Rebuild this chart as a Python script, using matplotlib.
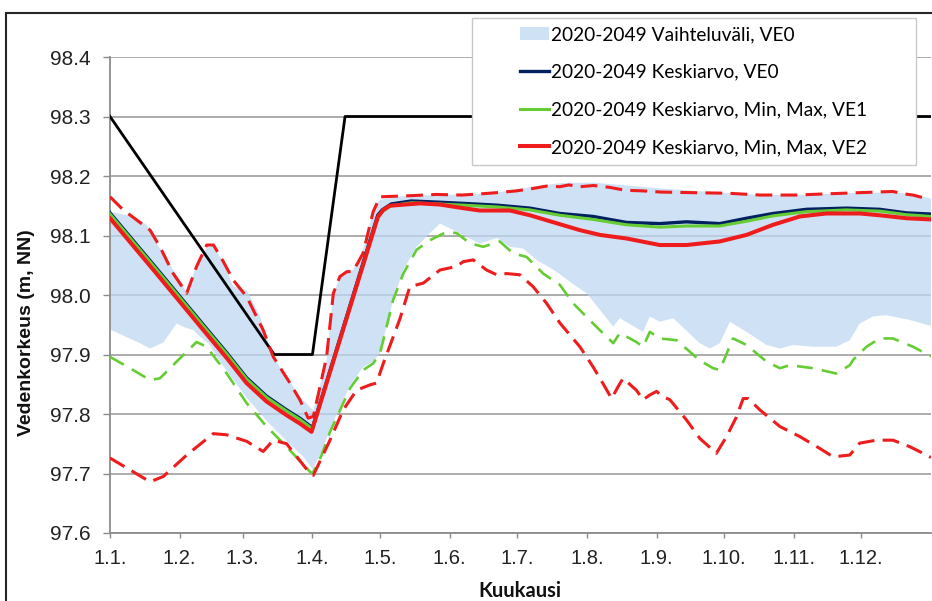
import numpy as np
import matplotlib.pyplot as plt
from matplotlib.patches import Rectangle, Patch
from matplotlib.lines import Line2D

# x axis is day of year, ticks at month starts
month_days = [0, 31, 59, 90, 120, 151, 181, 212, 243, 273, 304, 334]
month_labels = ['1.1.', '1.2.', '1.3.', '1.4.', '1.5.', '1.6.',
                '1.7.', '1.8.', '1.9.', '1.10.', '1.11.', '1.12.']

# regulation upper limit
limit_days = [0, 73, 90, 104.5, 365]
limit_vals = [98.3, 97.9, 97.9, 98.3, 98.3]

# VE0 range (max / min)
ve0_max_days = [0, 10.4, 16.3, 20, 25.2, 31.1, 34.1, 38, 43, 46, 50, 54.8, 60.8, 66.7, 72.6, 80, 84.4,
                90.4, 96.3, 99.1, 102.2, 105, 108, 112.4, 116.9, 120, 130, 145, 160, 175, 190, 200,
                215, 230, 245, 260, 275, 290, 305, 320, 335, 350, 358, 365]
ve0_max_vals = [98.140, 98.132, 98.118, 98.092, 98.059, 98.025, 98.003, 98.045, 98.080, 98.082, 98.058,
                98.014, 98.008, 97.964, 97.895, 97.855, 97.829, 97.806, 97.890, 98.000, 98.030, 98.040,
                98.042, 98.075, 98.140, 98.160, 98.166, 98.168, 98.169, 98.174, 98.183, 98.188, 98.189,
                98.184, 98.179, 98.175, 98.171, 98.168, 98.168, 98.170, 98.172, 98.172, 98.168, 98.162]
ve0_min_days = [0, 13.3, 17.8, 23.7, 29.6, 33, 37, 40, 44, 48, 52, 61, 70, 79, 86, 90, 94, 97.8, 106.7,
                112.6, 117, 120, 125.9, 130.4, 136.3, 142.2, 146.7, 151.1, 156.9, 164.4, 171.9, 177.8,
                183.7, 189.6, 196, 200, 206, 211.9, 217.8, 223.7, 226.7, 237, 240, 244.4, 250.4, 262.2,
                266.7, 271.1, 275.6, 283, 291.9, 297.8, 303.7, 312.6, 322.9, 328.9, 333.3, 339.2, 345.2,
                355.6, 365]
ve0_min_vals = [97.942, 97.919, 97.910, 97.920, 97.952, 97.946, 97.941, 97.930, 97.918, 97.893, 97.872,
                97.826, 97.787, 97.753, 97.728, 97.707, 97.735, 97.775, 97.848, 97.879, 97.888, 97.902,
                97.992, 98.042, 98.081, 98.104, 98.120, 98.112, 98.101, 98.086, 98.096, 98.081, 98.078,
                98.059, 98.045, 98.035, 98.018, 98.003, 97.975, 97.947, 97.961, 97.938, 97.964, 97.955,
                97.961, 97.919, 97.910, 97.919, 97.955, 97.938, 97.916, 97.910, 97.916, 97.913, 97.913,
                97.924, 97.952, 97.964, 97.966, 97.958, 97.948]

# mean levels VE0 / VE1
mean_days = [0, 20, 41.5, 51.9, 60.7, 69.6, 78.5, 84.4, 90, 119, 121, 125, 134, 146, 157, 172, 186.7,
             200, 214.8, 229.6, 244.4, 256.3, 271.1, 283, 294.8, 309.6, 327.4, 342.2, 354.1, 365]
ve0_mean = [98.138, 98.048, 97.950, 97.903, 97.861, 97.830, 97.807, 97.793, 97.777, 98.134, 98.143,
            98.153, 98.158, 98.156, 98.154, 98.151, 98.146, 98.137, 98.132, 98.122, 98.120, 98.123,
            98.120, 98.129, 98.137, 98.144, 98.146, 98.144, 98.138, 98.136]
ve1_mean = [98.136, 98.046, 97.948, 97.901, 97.859, 97.828, 97.805, 97.791, 97.775, 98.131, 98.140,
            98.150, 98.155, 98.153, 98.151, 98.148, 98.143, 98.134, 98.127, 98.118, 98.114, 98.116,
            98.116, 98.124, 98.133, 98.140, 98.143, 98.141, 98.135, 98.132]

# VE2 mean
ve2_mean_days = [0, 20, 41.5, 51.9, 60.7, 69.6, 78.5, 84.4, 89.6, 119.1, 121.5, 124.4, 137.8, 146.7,
                 156.9, 164.4, 177.8, 186.7, 200, 208.9, 217.8, 229.6, 244.4, 256.3, 271.1, 283, 294.8,
                 306.7, 318.5, 333.3, 342.2, 354.1, 365]
ve2_mean = [98.129, 98.039, 97.941, 97.894, 97.852, 97.821, 97.798, 97.784, 97.770, 98.131, 98.143,
            98.150, 98.154, 98.152, 98.146, 98.142, 98.142, 98.134, 98.119, 98.109, 98.101, 98.095,
            98.084, 98.084, 98.090, 98.101, 98.118, 98.132, 98.137, 98.137, 98.134, 98.129, 98.127]

# VE1 minimum
ve1_min_days = [0, 8.9, 17.8, 22.2, 29.6, 38.5, 43, 51.9, 60.8, 69.6, 78.5, 88.9, 90, 94, 97.8, 106.7,
                112.6, 117, 120, 121.5, 125.9, 130.4, 136.3, 142.2, 149.6, 154.1, 160, 165.9, 173.3,
                179.2, 185.2, 192.6, 200, 205.9, 214.8, 223.7, 226.7, 234, 237, 240, 244.4, 251.9,
                262.2, 268.1, 271.1, 277, 283, 291.9, 297.8, 302.2, 312.6, 322.9, 328.9, 330.4, 336.3,
                342.2, 348.1, 357, 365]
ve1_min = [97.896, 97.877, 97.857, 97.860, 97.888, 97.921, 97.913, 97.868, 97.818, 97.779, 97.745,
           97.703, 97.700, 97.730, 97.770, 97.843, 97.874, 97.885, 97.902, 97.924, 97.992, 98.036,
           98.076, 98.092, 98.106, 98.104, 98.087, 98.081, 98.090, 98.070, 98.064, 98.036, 98.017,
           97.986, 97.952, 97.919, 97.936, 97.921, 97.913, 97.938, 97.927, 97.924, 97.890, 97.877,
           97.874, 97.927, 97.916, 97.888, 97.877, 97.882, 97.877, 97.868, 97.882, 97.891, 97.913,
           97.927, 97.927, 97.913, 97.897]

# VE2 maximum / minimum
ve2_max_days = [0, 5.9, 11.9, 17.8, 22.2, 28.1, 34.1, 38.5, 43, 46, 50.4, 54.8, 60.8, 68.1, 72.6, 80,
                84.4, 88.1, 90.4, 96.3, 99.3, 102.2, 105.2, 108.1, 112.5, 117, 120, 134, 145, 156.3,
                165, 171.9, 180.7, 188, 194, 200, 204, 209, 215, 222, 229, 236.9, 245, 259, 275, 289,
                305, 318.5, 333, 348, 353, 357, 363]
ve2_max = [98.165, 98.143, 98.126, 98.109, 98.081, 98.036, 98.003, 98.048, 98.084, 98.084, 98.056,
           98.025, 97.997, 97.941, 97.896, 97.852, 97.824, 97.793, 97.796, 97.896, 98.003, 98.031,
           98.039, 98.040, 98.070, 98.140, 98.165, 98.167, 98.169, 98.168, 98.170, 98.172, 98.175,
           98.179, 98.183, 98.182, 98.185, 98.182, 98.184, 98.181, 98.176, 98.175, 98.173, 98.172,
           98.171, 98.168, 98.168, 98.170, 98.172, 98.174, 98.170, 98.168, 98.162]
ve2_min_days = [0, 8.9, 17.8, 23.7, 34.1, 45.9, 51.9, 60.8, 68.1, 72.6, 78.5, 88.9, 90.4, 97.8, 103.7,
                109.6, 115.6, 118.5, 121.5, 128.9, 133.3, 139.3, 146.7, 154.1, 157, 161.5, 167.4,
                171.9, 176.3, 182.2, 188.1, 194.1, 200, 208.9, 214.8, 219.2, 223, 225.9, 228.1, 234,
                237, 240, 243, 245.9, 248.9, 256.3, 262.2, 269.6, 274.1, 278.5, 281.5, 283.7, 288.9,
                297.8, 306.7, 315.6, 321.5, 328.9, 333.3, 340.7, 348.1, 355.6, 363, 365]
ve2_min = [97.726, 97.706, 97.686, 97.695, 97.731, 97.767, 97.765, 97.754, 97.737, 97.756, 97.750,
           97.700, 97.697, 97.756, 97.807, 97.840, 97.849, 97.852, 97.885, 97.960, 98.014, 98.020,
           98.042, 98.048, 98.056, 98.059, 98.042, 98.034, 98.036, 98.034, 98.014, 97.986, 97.953,
           97.913, 97.879, 97.851, 97.826, 97.846, 97.860, 97.840, 97.824, 97.832, 97.838, 97.829,
           97.824, 97.790, 97.759, 97.734, 97.762, 97.795, 97.826, 97.826, 97.807, 97.779, 97.762,
           97.742, 97.728, 97.731, 97.751, 97.756, 97.756, 97.745, 97.731, 97.727]

labels = ['2020-2049 Vaihteluväli, VE0',
          '2020-2049 Keskiarvo, VE0',
          '2020-2049 Keskiarvo, Min, Max, VE1',
          '2020-2049 Keskiarvo, Min, Max, VE2']

# colours
c_fill = '#bfd8f2'
c_navy = '#002060'
c_green = '#66cc33'
c_red = '#ee1c1c'

W, H = 932, 601
fig = plt.figure(figsize=(W / 100, H / 100), dpi=100)
ax = fig.add_axes([110 / W, 1 - 533 / H, (931 - 110) / W, (533 - 57) / H])

# range band
ax.fill(np.r_[ve0_max_days, ve0_min_days[::-1]], np.r_[ve0_max_vals, ve0_min_vals[::-1]],
        color=c_fill, alpha=0.75, lw=0, zorder=2)

ax.plot(limit_days, limit_vals, color='black', lw=2.0, zorder=3)
ax.plot(ve1_min_days, ve1_min, color=c_green, lw=1.9, dashes=(6, 3.5), zorder=4)
ax.plot(ve2_max_days, ve2_max, color=c_red, lw=2.2, dashes=(5.5, 2.7), zorder=4)
ax.plot(ve2_min_days, ve2_min, color=c_red, lw=2.2, dashes=(5.5, 2.7), zorder=4)
ax.plot(mean_days, ve0_mean, color=c_navy, lw=2.4, zorder=5)
ax.plot(mean_days, ve1_mean, color=c_green, lw=2.2, zorder=6)
ax.plot(ve2_mean_days, ve2_mean, color=c_red, lw=2.9, zorder=7)

ax.set_xlim(0, 365)
ax.set_ylim(97.6, 98.4)
ax.set_xticks(month_days)
ax.set_xticklabels(month_labels)
yt = np.arange(97.6, 98.41, 0.1)
ax.set_yticks(yt)
ax.set_yticklabels(['%.1f' % v for v in yt])

ax.grid(True, axis='y', color='#a6a6a6', lw=1.3, zorder=0)
ax.set_axisbelow(True)
for s in ['top', 'right']:
    ax.spines[s].set_visible(False)
for s in ['left', 'bottom']:
    ax.spines[s].set_color('#8c8c8c')
    ax.spines[s].set_linewidth(1.3)

tick_font = 'Liberation Sans'
ax.tick_params(axis='y', length=5, width=1, color='#8c8c8c', pad=9, labelsize=15, labelcolor='#222222')
ax.tick_params(axis='x', length=3.6, width=1, color='#8c8c8c', pad=8, labelsize=14.5, labelcolor='#222222')
for t in ax.get_xticklabels() + ax.get_yticklabels():
    t.set_fontfamily(tick_font)

fig.text(27 / W, 1 - 333 / H, 'Vedenkorkeus (m, NN)', rotation=90, ha='center', va='center',
         fontsize=14, fontweight='bold', family=tick_font, color='#111111')
fig.text(520 / W, 1 - 591 / H, 'Kuukausi', ha='center', va='center',
         fontsize=14.5, fontweight='bold', family='Lato', color='#111111')

# legend box
fig.add_artist(Rectangle((472 / W, 1 - 165 / H), 444 / W, 147 / H, transform=fig.transFigure,
                         facecolor='white', edgecolor='#c8c8c8', lw=1, zorder=4))
handles = [Patch(facecolor='#cfe2f5', edgecolor='none'),
           Line2D([], [], color=c_navy, lw=2.4),
           Line2D([], [], color=c_green, lw=2.2),
           Line2D([], [], color=c_red, lw=2.9)]
leg = fig.legend(handles, labels, loc='upper left', bbox_to_anchor=(520 / W, 1 - 26 / H),
                 frameon=False, borderpad=0, borderaxespad=0, handlelength=1.5,
                 handletextpad=0.1, labelspacing=1.08, prop={'family': 'Lato', 'size': 13.8})
leg.set_zorder(5)

# outer frame
fig.add_artist(Rectangle((6 / W, -0.1), 1.2, 1 - 13 / H + 0.1, transform=fig.transFigure,
                         facecolor='none', edgecolor='#262626', lw=1.5, zorder=6))

fig.savefig('out.png', dpi=100)
